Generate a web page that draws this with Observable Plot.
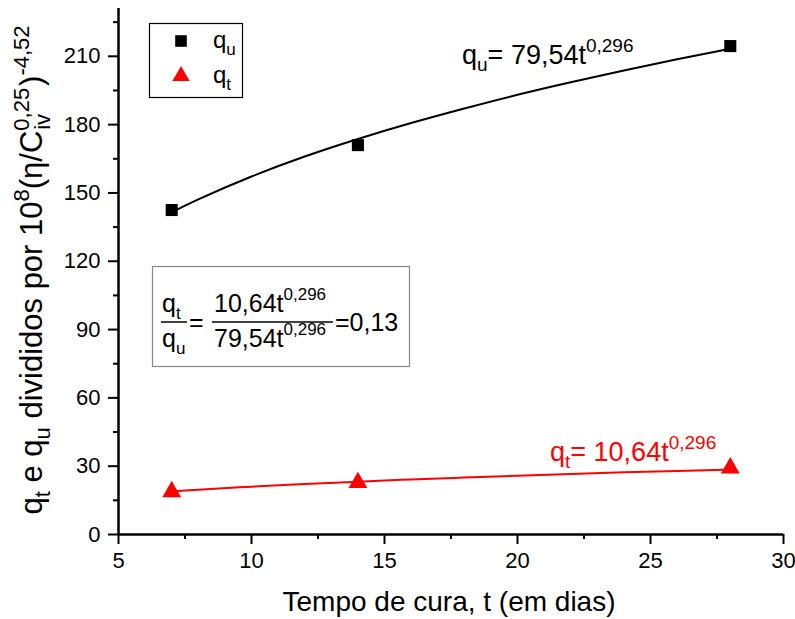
<!DOCTYPE html>
<html>
<head>
<meta charset="utf-8">
<script src="https://cdn.jsdelivr.net/npm/d3@7"></script>
<script src="https://cdn.jsdelivr.net/npm/@observablehq/plot@0.6"></script>
<style>
  html, body { margin: 0; padding: 0; background: #fff; }
  #chart { width: 795px; height: 619px; }
  svg text { font-family: "Liberation Sans", Arial, sans-serif; }
</style>
</head>
<body>
<div id="chart"></div>
<script>
// Measured points (t in days)
const days = [7, 14, 28];
const quValues = [142.5, 171, 214.5];
const qtValues = [18.8, 22.8, 29.2];

// Fitted curves
const curveDays = [7, 8, 10, 12, 14, 16, 18, 20, 22, 24, 26, 28];
const quCurve = [141.5, 147.2, 157.2, 166.0, 173.7, 180.7, 187.1, 193.1, 198.6, 203.8, 208.7, 213.3];
const qtCurve = [18.9, 19.7, 21.0, 22.2, 23.2, 24.2, 25.0, 25.8, 26.6, 27.3, 27.9, 28.5];

const xTicks = [5, 10, 15, 20, 25, 30];
const xMinor = [7.5, 12.5, 17.5, 22.5, 27.5];
const yTicks = [0, 30, 60, 90, 120, 150, 180, 210];
const yMinor = [15, 45, 75, 105, 135, 165, 195, 225];

const quPts = days.map((t, i) => ({t, v: quValues[i]}));
const qtPts = days.map((t, i) => ({t, v: qtValues[i]}));
const quLine = curveDays.map((t, i) => ({t, v: quCurve[i]}));
const qtLine = curveDays.map((t, i) => ({t, v: qtCurve[i]}));

const plot = Plot.plot({
  width: 795,
  height: 619,
  marginTop: 8,
  marginBottom: 85,
  marginLeft: 118,
  marginRight: 12,
  style: {fontFamily: "Liberation Sans, Arial, sans-serif", background: "#fff"},
  x: {domain: [5, 30]},
  y: {domain: [0, 231]},
  marks: [
    Plot.axisX({ticks: xTicks, tickSize: 10, tickPadding: 8, fontSize: 22, strokeWidth: 2, color: "#000", label: null}),
    Plot.axisX({ticks: xMinor, tickSize: 5, text: null, strokeWidth: 2, label: null}),
    Plot.axisY({ticks: yTicks, tickSize: 10, tickPadding: 8, fontSize: 22, strokeWidth: 2, color: "#000", label: null}),
    Plot.axisY({ticks: yMinor, tickSize: 5, text: null, strokeWidth: 2, label: null}),
    Plot.ruleX([5], {stroke: "#000", strokeWidth: 2.5}),
    Plot.ruleY([0], {stroke: "#000", strokeWidth: 2.5}),
    Plot.line(quLine, {x: "t", y: "v", stroke: "#000", strokeWidth: 2, curve: "natural"}),
    Plot.line(qtLine, {x: "t", y: "v", stroke: "#ff0000", strokeWidth: 2, curve: "natural"}),
    Plot.dot(quPts, {x: "t", y: "v", symbol: "square", r: 6.8, fill: "#000", stroke: "none"}),
    Plot.dot(qtPts, {x: "t", y: "v", symbol: "triangle", r: 7, fill: "#ff0000", stroke: "none"})
  ]
});

document.getElementById("chart").appendChild(plot);
const svg = d3.select(plot);
const F = "Liberation Sans, Arial, sans-serif";

// Helper for rich text
function rich(g, x, y, parts, opts = {}) {
  const t = g.append("text").attr("x", x).attr("y", y)
    .attr("font-family", F).attr("font-size", opts.size || 22)
    .attr("fill", opts.fill || "#000")
    .attr("text-anchor", opts.anchor || "start");
  let shift = 0;
  parts.forEach(p => {
    const s = t.append("tspan").text(p.t);
    const target = p.dy || 0;
    s.attr("dy", target - shift);
    shift = target;
    if (p.size) s.attr("font-size", p.size);
    if (p.dx) s.attr("dx", p.dx);
  });
  return t;
}

// x axis title
svg.append("text").attr("x", 449).attr("y", 611)
  .attr("text-anchor", "middle").attr("font-family", F).attr("font-size", 28)
  .text("Tempo de cura, t (em dias)");

// y axis title
const yt = svg.append("g").attr("transform", "translate(42,270) rotate(-90)");
rich(yt, 0, 0, [
  {t: "q"}, {t: "t", dy: 8, size: 22}, {t: " e q"}, {t: "u", dy: 8, size: 22},
  {t: " divididos por 10"}, {t: "8", dy: -13, size: 22}, {t: "(η/C"},
  {t: "0,25", dy: -13, size: 22}, {t: "iv", dy: 8, size: 22, dx: -42},
  {t: ")", dx: 28}, {t: "-4,52", dy: -13, size: 22}
], {size: 31, anchor: "middle"});

// Legend
const lg = svg.append("g");
lg.append("rect").attr("x", 149.5).attr("y", 23.5).attr("width", 93).attr("height", 74)
  .attr("fill", "#fff").attr("stroke", "#000").attr("stroke-width", 1.2);
lg.append("path").attr("d", d3.symbol(d3.symbolSquare, 135)()).attr("transform", "translate(181,41)").attr("fill", "#000");
lg.append("path").attr("d", d3.symbol(d3.symbolTriangle, 130)()).attr("transform", "translate(181,76)").attr("fill", "#ff0000");
rich(lg, 213, 48, [{t: "q"}, {t: "u", dy: 7, size: 17}], {size: 24});
rich(lg, 213, 83, [{t: "q"}, {t: "t", dy: 7, size: 17}], {size: 24});

// Equation labels
rich(svg, 462, 64, [{t: "q"}, {t: "u", dy: 7, size: 19}, {t: "= 79,54t", dy: 0}, {t: "0,296", dy: -12, size: 19}], {size: 27});
rich(svg, 550, 461, [{t: "q"}, {t: "t", dy: 7, size: 19}, {t: "= 10,64t", dy: 0}, {t: "0,296", dy: -12, size: 19}], {size: 27, fill: "#ff0000"});

// Ratio box
const rb = svg.append("g");
rb.append("rect").attr("x", 152.5).attr("y", 266.5).attr("width", 257).attr("height", 100)
  .attr("fill", "#fff").attr("stroke", "#888").attr("stroke-width", 1.2);
rich(rb, 162, 312, [{t: "q"}, {t: "t", dy: 7, size: 17}], {size: 25});
rich(rb, 162, 347, [{t: "q"}, {t: "u", dy: 7, size: 17}], {size: 25});
rb.append("line").attr("x1", 161).attr("x2", 187).attr("y1", 322).attr("y2", 322).attr("stroke", "#000").attr("stroke-width", 1.5);
rb.append("text").attr("x", 189).attr("y", 331).attr("text-anchor", "start").attr("font-family", F).attr("font-size", 25).text("=");
rich(rb, 214, 312, [{t: "10,64t"}, {t: "0,296", dy: -12, size: 17}], {size: 25});
rich(rb, 214, 347, [{t: "79,54t"}, {t: "0,296", dy: -12, size: 17}], {size: 25});
rb.append("line").attr("x1", 212).attr("x2", 333).attr("y1", 322).attr("y2", 322).attr("stroke", "#000").attr("stroke-width", 1.5);
rb.append("text").attr("x", 335).attr("y", 331).attr("text-anchor", "start").attr("font-family", F).attr("font-size", 25).text("=0,13");
</script>
</body>
</html>
